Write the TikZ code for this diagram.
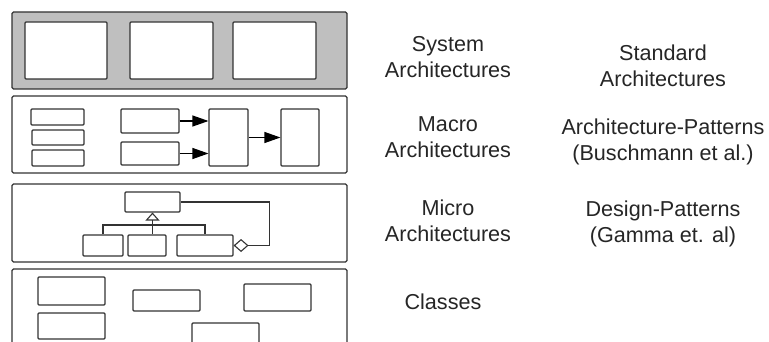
\documentclass[tikz,border=0pt]{standalone}
\usepackage{fontspec}
\setmainfont{Liberation Sans}
\usetikzlibrary{arrows.meta}
\tikzset{
  box/.style={draw=black!80, line width=1.1pt, rounded corners=1pt, fill=white, inner sep=0pt},
  layer/.style={draw=black!80, line width=1.1pt, rounded corners=1.5pt, inner sep=0pt},
  label/.style={align=center, text=black!85, font=\fontsize{21.6pt}{26pt}\selectfont},
  flow/.style={draw=black, line width=1.1pt, -{Triangle[length=16pt,width=11pt]}},
  inherit/.style={draw=black!80, line width=1.1pt, -{Triangle[open,length=8pt,width=14pt]}},
  aggr/.style={draw=black!80, line width=1.1pt, {Diamond[open,length=15pt,width=13pt]}-}
}
\begin{document}
\begin{tikzpicture}[x=1pt, y=-1pt]
\clip (0,0) rectangle (769,342);
\fill[white] (0,0) rectangle (769,342);
% system architectures
\node[layer, fill=black!25, minimum width=335pt, minimum height=77pt] (sys) at (179.5,50.5) {};
\node[box, minimum width=82pt, minimum height=57pt] (sys1) at (66,50.5) {};
\node[box, minimum width=83pt, minimum height=57pt] (sys2) at (171.5,50.5) {};
\node[box, minimum width=83pt, minimum height=57pt] (sys3) at (274.5,50.5) {};
% macro architectures
\node[layer, minimum width=335pt, minimum height=77pt] (mac) at (179.5,134.5) {};
\node[box, minimum width=53pt, minimum height=16pt] (mac1) at (57.5,117) {};
\node[box, minimum width=52pt, minimum height=15pt] (mac2) at (58,137.5) {};
\node[box, minimum width=52pt, minimum height=16pt] (mac3) at (58,158) {};
\node[box, minimum width=58pt, minimum height=24pt] (src1) at (150,121) {};
\node[box, minimum width=58pt, minimum height=23pt] (src2) at (150,153.5) {};
\node[box, minimum width=39pt, minimum height=57pt] (filt) at (228.5,137.5) {};
\node[box, minimum width=38pt, minimum height=57pt] (sink) at (300,137.5) {};
\draw[flow] (src1.east) -- (src1.east -| filt.west);
\draw[flow] (src2.east) -- (src2.east -| filt.west);
\draw[flow] (filt.east) -- (sink.west);
% micro architectures
\node[layer, minimum width=335pt, minimum height=78pt] (mic) at (179.5,223) {};
\node[box, minimum width=55pt, minimum height=20pt] (base) at (152.5,202) {};
\node[box, minimum width=40pt, minimum height=21pt] (sub1) at (103,245.5) {};
\node[box, minimum width=38pt, minimum height=21pt] (sub2) at (147,245.5) {};
\node[box, minimum width=56pt, minimum height=21pt] (sub3) at (205,245.5) {};
\coordinate (bar) at (153,225);
\draw[black!80, line width=1.1pt] (sub1.north) |- (bar) -| (sub3.north);
\draw[inherit] (base.south |- sub2.north) -- (base.south);
\draw[aggr] (sub3.east) -- ++(36,0) |- (base.east);
% classes
\draw[black!80, line width=1.1pt, rounded corners=1.5pt] (12,360) -- (12,269) -- (347,269) -- (347,360);
\node[box, minimum width=67pt, minimum height=28pt] (cls1) at (71.5,291) {};
\node[box, minimum width=67pt, minimum height=26pt] (cls2) at (71.5,326) {};
\node[box, minimum width=67pt, minimum height=21pt] (cls3) at (166.5,300.5) {};
\node[box, minimum width=67pt, minimum height=27pt] (cls4) at (277.5,297.5) {};
\node[box, minimum width=67pt, minimum height=22pt] (cls5) at (225.5,334) {};
% level names
\node[label] (lsys) at (448,57) {System\\Architectures};
\node[label] (lmac) at (448,137) {Macro\\Architectures};
\node[label] (lmic) at (448,221) {Micro\\Architectures};
\node[label] (lcls) at (443,302) {Classes};
\node[label] (rsys) at (663,66) {Standard\\Architectures};
\node[label] (rmac) at (663,142) {Architecture-Patterns\\(Buschmann et al.)};
\node[label] (rmic) at (663,224) {Design-Patterns\\(Gamma et. al)};
\end{tikzpicture}
\end{document}
